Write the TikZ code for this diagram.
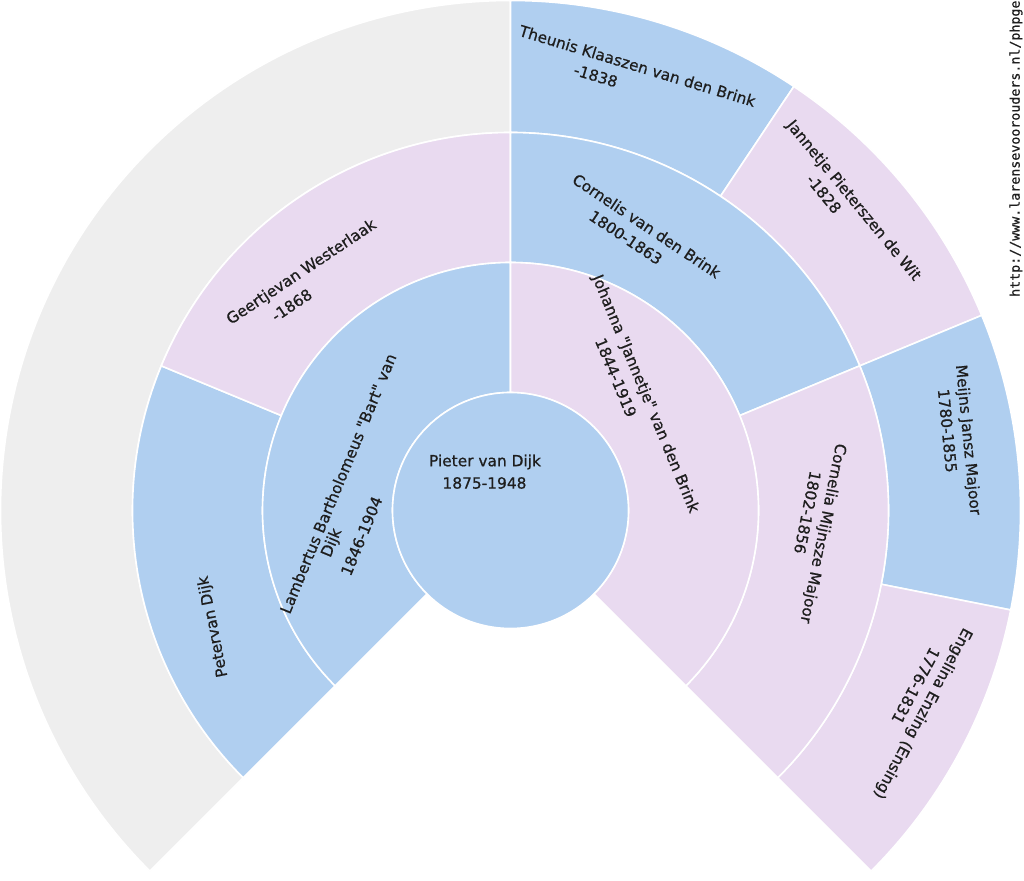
\documentclass[tikz,border=0pt]{standalone}
\usepackage{fontspec}
\setmainfont{DejaVu Sans}
\newfontfamily\lblfont[FakeBold=0.7]{DejaVu Sans}
\newfontfamily\urlfont[FakeBold=0.5]{DejaVu Sans Mono}
\definecolor{mblue}{HTML}{B0CFF0}
\definecolor{fpink}{HTML}{E9DAF0}
\definecolor{unk}{HTML}{EEEEEE}
\definecolor{txt}{HTML}{1E1E1E}
\newcommand\fansector[5]{%
  \filldraw[seg, fill=#1] ([shift={(#4:#2pt)}]C) arc[start angle=#4, end angle=#5, radius=#2pt]
    -- ([shift={(#5:#3pt)}]C) arc[start angle=#5, end angle=#4, radius=#3pt] -- cycle;}
\begin{document}
\begin{tikzpicture}[x=1pt,y=1pt,
  seg/.style={draw=white, line width=1.6pt, line join=miter},
  lbl/.style={inner sep=0pt, text=txt, font=\lblfont\fontsize{15.4}{18}\selectfont},
  urllbl/.style={inner sep=0pt, text=txt, font=\urlfont\fontsize{13.3}{15}\selectfont}]
\useasboundingbox (0,0) rectangle (1024,880);
\fill[white] (0,0) rectangle (1024,880);
\coordinate (C) at (510.5,369.5);
% ring 3
\fansector{unk}{378}{510}{90}{225}
\fansector{mblue}{378}{510}{56.25}{90}
\fansector{fpink}{378}{510}{22.5}{56.25}
\fansector{mblue}{378}{510}{-11.25}{22.5}
\fansector{fpink}{378}{510}{-45}{-11.25}
% ring 2
\fansector{mblue}{248}{378}{157.5}{225}
\fansector{fpink}{248}{378}{90}{157.5}
\fansector{mblue}{248}{378}{22.5}{90}
\fansector{fpink}{248}{378}{-45}{22.5}
% ring 1
\fansector{mblue}{118}{248}{90}{225}
\fansector{fpink}{118}{248}{-45}{90}
% centre
\filldraw[seg, fill=mblue] (C) circle[radius=118pt];
% labels
\node[lbl] (p1a) at (485,418) {Pieter van Dijk};
\node[lbl] (p1b) at (484.5,397) {1875-1948};
\node[lbl, rotate=67.5] (p2a) at (338,396.5) {Lambertus Bartholomeus "Bart" van};
\node[lbl, rotate=67.5] (p2b) at (332,337) {Dijk};
\node[lbl, rotate=67.5] (p2c) at (361.5,344) {1846-1904};
\node[lbl, rotate=-67.5] (p3a) at (645,486) {Johanna "Jannetje" van den Brink};
\node[lbl, rotate=-67.5] (p3b) at (616,502.5) {1844-1919};
\node[lbl, rotate=101.25] (p4a) at (213.3,253.3) {Petervan Dijk};
\node[lbl, rotate=33.75] (p5a) at (301.7,607.5) {Geertjevan Westerlaak};
\node[lbl, rotate=33.75] (p5b) at (291.7,575) {-1868};
\node[lbl, rotate=-33.75] (p6a) at (646.7,654.2) {Cornelis van den Brink};
\node[lbl, rotate=-33.75] (p6b) at (625.8,642.5) {1800-1863};
\node[lbl, rotate=-101.25] (p7a) at (822.5,346.7) {Cornelia Mijnsze Majoor};
\node[lbl, rotate=-101.25] (p7b) at (807.5,367.5) {1802-1856};
\node[lbl, rotate=-16.875] (p12a) at (637.5,814.2) {Theunis Klaaszen van den Brink};
\node[lbl, rotate=-16.875] (p12b) at (595.8,804.2) {-1838};
\node[lbl, rotate=-50.625] (p13a) at (853.3,679.2) {Jannetje Pieterszen de Wit};
\node[lbl, rotate=-50.625] (p13b) at (824,686) {-1828};
\node[lbl, rotate=-84.375] (p14a) at (967.5,440) {Meijns Jansz Majoor};
\node[lbl, rotate=-84.375] (p14b) at (947.5,449.2) {1780-1855};
\node[lbl, rotate=-118.125] (p15a) at (922.5,166.7) {Engelina Enzing (Ensing)};
\node[lbl, rotate=-118.125] (p15b) at (915.8,194.2) {1776-1831};
\node[urllbl, rotate=90, anchor=west] (url) at (1016,583) {http://www.larensevoorouders.nl/phpge};
\end{tikzpicture}
\end{document}
